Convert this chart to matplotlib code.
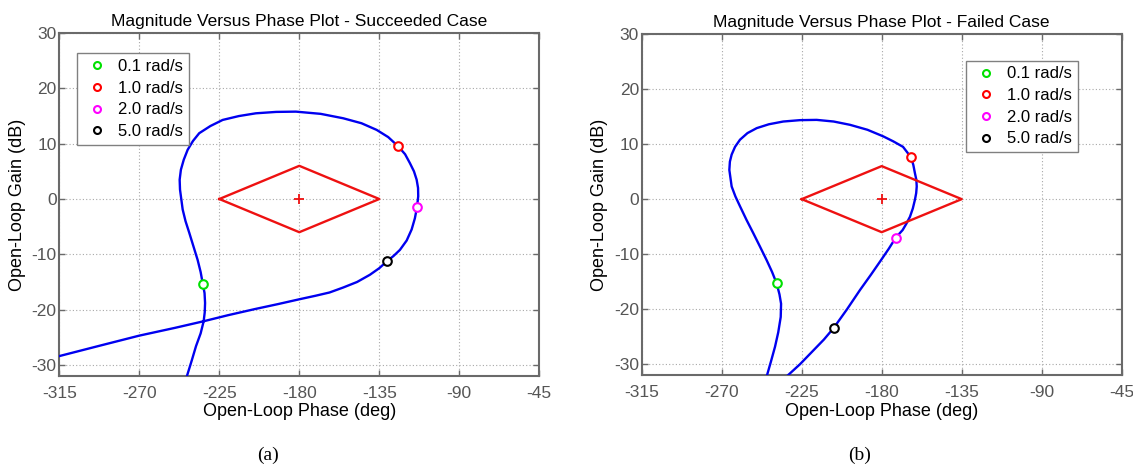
import matplotlib
matplotlib.use("Agg")
import matplotlib.pyplot as plt
from matplotlib.lines import Line2D

plt.rcParams['font.family'] = ['Liberation Sans', 'DejaVu Sans']

# ---------------- data ----------------
# (a) succeeded case: open-loop phase (deg) / gain (dB)
phase_a = [-244.0, -243.2, -240.5, -238.1, -235.5, -233.8, -233.2, -233.0, -233.3,
           -234.3, -235.5, -237.2, -239.5, -241.9, -244.0, -245.6, -247.1, -247.3,
           -246.6, -245.0, -242.8, -239.8, -236.3, -230.0, -223.1, -214.0, -204.4,
           -193.0, -181.9, -168.0, -155.3, -145.0, -136.5, -130.0, -124.3, -120.5,
           -117.8, -115.5, -114.0, -113.2, -113.1, -113.8, -115.0, -116.8, -119.6,
           -123.4, -127.0, -130.5, -135.0, -140.3, -147.5, -155.3, -163.0, -171.0,
           -179.6, -192.0, -205.0, -220.0, -233.8, -250.0, -270.0, -292.0, -315.0]
gain_a = [-33.0, -32.0, -29.2, -26.6, -24.3, -22.1, -20.5, -18.8, -17.0,
          -15.3, -13.2, -11.0, -8.6, -6.1, -4.0, -1.9, 1.7, 3.5,
          5.3, 7.1, 8.9, 10.5, 11.9, 13.2, 14.3, 15.0, 15.5,
          15.75, 15.8, 15.4, 14.6, 13.7, 12.5, 11.2, 9.5, 8.1,
          6.5, 5.0, 3.5, 2.0, 0.5, -1.5, -3.5, -5.5, -7.5,
          -9.2, -10.3, -11.2, -12.5, -13.7, -15.0, -16.0, -16.9, -17.5,
          -18.1, -19.0, -19.9, -21.0, -22.1, -23.3, -24.7, -26.5, -28.4]

# (b) failed case
phase_b = [-245.5, -244.7, -242.3, -240.0, -238.2, -236.8, -236.6, -237.5, -239.1,
           -241.7, -244.7, -248.5, -252.2, -256.0, -259.7, -262.3, -264.4, -265.7,
           -265.4, -264.4, -262.5, -259.7, -255.5, -250.3, -243.5, -235.4, -226.0,
           -216.6, -207.0, -197.8, -188.0, -179.1, -173.5, -168.0, -163.5, -162.2,
           -161.3, -160.5, -160.3, -160.6, -161.3, -162.5, -164.1, -166.2, -168.2,
           -172.1, -176.0, -180.0, -186.0, -192.2, -199.5, -207.0, -212.5, -218.5,
           -226.0, -233.1, -234.0]
gain_b = [-33.0, -32.2, -29.5, -26.8, -24.2, -21.4, -19.0, -17.3, -15.3,
          -13.2, -11.1, -8.6, -6.2, -3.8, -1.3, 0.5, 2.3, 5.3,
          6.8, 8.1, 9.5, 10.8, 12.0, 12.9, 13.6, 14.1, 14.35,
          14.4, 14.1, 13.5, 12.6, 11.4, 10.5, 9.5, 7.6, 6.2,
          4.7, 3.5, 2.3, 1.1, -0.1, -1.7, -3.2, -4.5, -5.6,
          -7.0, -9.0, -10.9, -13.7, -16.5, -20.0, -23.4, -25.5, -27.5,
          -30.0, -32.1, -33.0]

freq_labels = ['0.1 rad/s', '1.0 rad/s', '2.0 rad/s', '5.0 rad/s']
marker_colors = ['#00e000', '#ff0000', '#ff00ff', '#000000']
markers_phase_a = [-234.3, -124.3, -113.8, -130.5]
markers_gain_a = [-15.3, 9.6, -1.5, -11.2]
markers_phase_b = [-239.1, -163.5, -172.1, -207.0]
markers_gain_b = [-15.3, 7.6, -7.0, -23.4]

diamond_phase = [-225, -180, -135, -180, -225]
diamond_gain = [0, 6, 0, -6, 0]
center_phase = [-180]
center_gain = [0]

xticks = [-315, -270, -225, -180, -135, -90, -45]
yticks = [-30, -20, -10, 0, 10, 20, 30]

titles = ['Magnitude Versus Phase Plot - Succeeded Case',
          'Magnitude Versus Phase Plot - Failed Case']
captions = ['(a)', '(b)']

# ---------------- figure ----------------
W, H = 1133, 466
fig = plt.figure(figsize=(W / 100, H / 100), dpi=100)
fig.patch.set_facecolor('white')

ax_boxes = [
    (59.3 / W, 1 - 376.0 / H, 480.0 / W, (376.0 - 33.1) / H),
    (641.7 / W, 1 - 375.3 / H, 480.0 / W, (375.3 - 34.0) / H),
]
legend_cfg = [
    dict(loc='upper left', bbox_to_anchor=(0.0375, 0.941)),
    dict(loc='upper right', bbox_to_anchor=(0.909, 0.922)),
]
caption_x = [268 / W, 860 / W]

curves = [(phase_a, gain_a, markers_phase_a, markers_gain_a),
          (phase_b, gain_b, markers_phase_b, markers_gain_b)]

spine_col = '#6a6a6a'
tick_col = '#555555'

for i, box in enumerate(ax_boxes):
    ax = fig.add_axes(box)
    ph, gn, mph, mgn = curves[i]
    ax.plot(ph, gn, color='#0000f0', lw=1.7, zorder=3, solid_joinstyle='round')
    ax.plot(diamond_phase, diamond_gain, color='#ee1111', lw=1.7, zorder=3)
    ax.plot(center_phase, center_gain, marker='+', color='#ee1111', ms=7, mew=1.3,
            ls='none', zorder=4)
    for px, gy, c in zip(mph, mgn, marker_colors):
        ax.plot([px], [gy], marker='o', ls='none', mfc='white', mec=c, ms=6.2,
                mew=1.5, zorder=5)

    ax.set_xlim(-315, -45)
    ax.set_ylim(-32, 30)
    ax.set_xticks(xticks)
    ax.set_yticks(yticks)
    ax.set_xticklabels([str(t) for t in xticks])
    ax.set_yticklabels([str(t) for t in yticks])
    ax.grid(True, color='#a8a8a8', linestyle=(0, (1, 2)), linewidth=0.8)
    ax.set_axisbelow(True)
    for s in ax.spines.values():
        s.set_color(spine_col)
        s.set_linewidth(1.5)
    ax.tick_params(axis='both', direction='in', top=True, right=True,
                   length=4, width=1.0, color=spine_col, labelcolor=tick_col,
                   labelsize=12.5)
    ax.tick_params(axis='x', pad=7)
    ax.tick_params(axis='y', pad=2)

    ax.set_title(titles[i], fontsize=12.5, pad=5)
    ax.set_xlabel('Open-Loop Phase (deg)', fontsize=13, labelpad=2)
    ax.set_ylabel('Open-Loop Gain (dB)', fontsize=13, labelpad=4)

    handles = [Line2D([], [], marker='o', ls='none', mfc='none', mec=c, ms=5,
                      mew=1.5) for c in marker_colors]
    leg = ax.legend(handles, freq_labels, fontsize=12, frameon=True,
                    fancybox=False, edgecolor='#808080', framealpha=1,
                    borderaxespad=0, borderpad=0.35, handlelength=1.7,
                    handletextpad=0.4, labelspacing=0.4, **legend_cfg[i])
    leg.get_frame().set_linewidth(1.0)

    fig.text(caption_x[i], 1 - 455 / H, captions[i], fontsize=14,
             family=['Liberation Serif', 'DejaVu Serif'], ha='center', va='center')

fig.savefig('out.png', dpi=100, facecolor='white')
